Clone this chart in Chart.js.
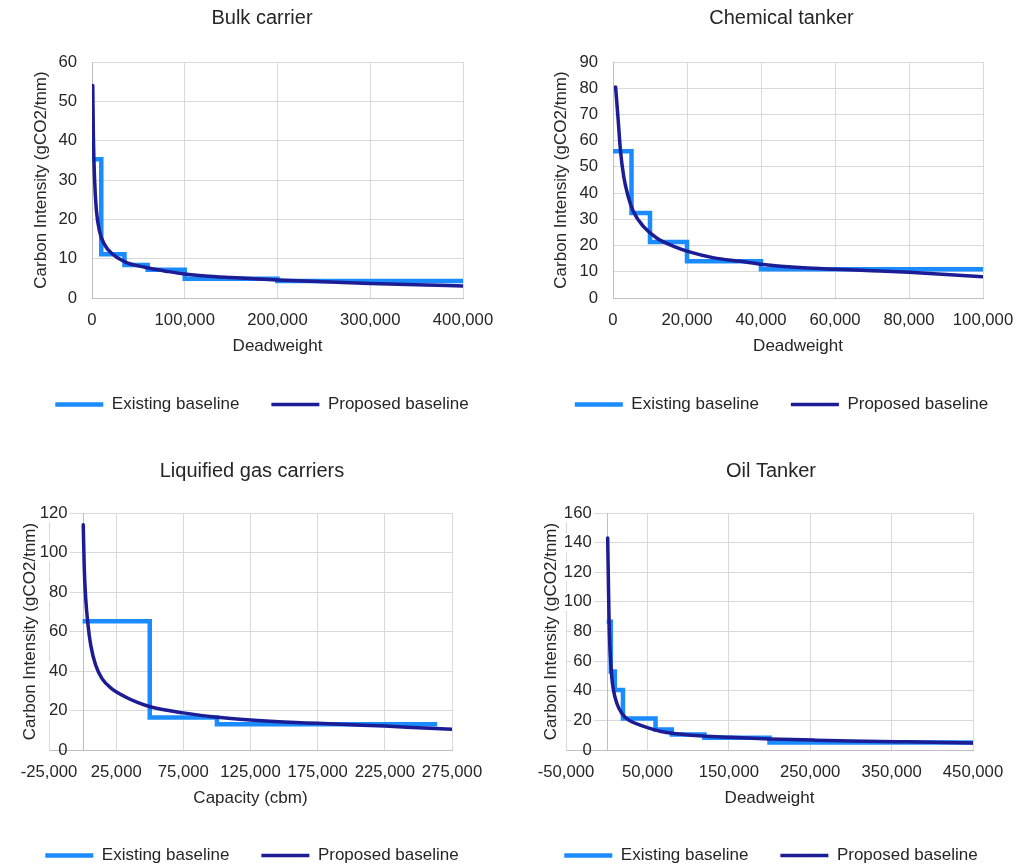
<!DOCTYPE html>
<html><head><meta charset="utf-8">
<script src="https://cdn.jsdelivr.net/npm/chart.js@4.4.1/dist/chart.umd.min.js"></script>
<style>
html,body{margin:0;padding:0;background:#fff;overflow:hidden;width:1033px;height:865px;}
canvas{position:absolute;}
</style></head><body>
<canvas id="c1" width="524" height="423" style="left:0px;top:0px"></canvas>
<canvas id="c2" width="503" height="423" style="left:530px;top:0px"></canvas>
<canvas id="c3" width="504" height="421" style="left:0px;top:453px"></canvas>
<canvas id="c4" width="502" height="421" style="left:520px;top:453px"></canvas>
<script>
// ---------- data ----------
const seriesNames = ['Existing baseline', 'Proposed baseline'];

// Bulk carrier
const bulkExistingX = [0, 10000, 35000, 60000, 100000, 200000, 400000];
const bulkExistingY = [35.3, 11.1, 8.4, 7.2, 4.9, 4.3];
const bulkProposedX = [800, 1500, 2800, 4700, 8300, 13700, 21000, 35500, 57000, 83000, 100000, 122000, 150000, 200000, 250000, 300000, 350000, 400000];
const bulkProposedY = [54, 41, 30, 22.4, 16.8, 13.5, 11.4, 9.2, 7.8, 6.7, 6.1, 5.6, 5.2, 4.6, 4.1, 3.7, 3.35, 3.05];

// Chemical tanker
const chemExistingX = [0, 5000, 10000, 20000, 40000, 100000];
const chemExistingY = [56, 32.4, 21.4, 14.0, 11.0];
const chemProposedX = [700, 1400, 2000, 2900, 4100, 5500, 8200, 11800, 16400, 20200, 27300, 34500, 40000, 51500, 60000, 70000, 80000, 90000, 100000];
const chemProposedY = [80.5, 67.9, 56.5, 46.3, 38.7, 33, 27.3, 22.9, 19.7, 17.8, 15.3, 14.0, 12.9, 11.5, 10.95, 10.4, 9.8, 9.0, 8.1];

// Liquified gas carriers
const lngExistingX = [0, 50000, 100000, 264000];
const lngExistingY = [65.2, 16.4, 13.0];
const lngProposedX = [500, 1200, 2400, 4100, 6100, 9700, 14600, 21800, 31600, 41300, 51000, 75000, 100000, 125000, 150000, 175000, 200000, 225000, 250000, 275000];
const lngProposedY = [114, 93, 76, 63, 53, 43, 36, 31, 27, 24, 21.8, 18.8, 16.6, 15.2, 14.2, 13.5, 12.8, 12.1, 11.3, 10.5];

// Oil tanker
const oilExistingX = [0, 5000, 10000, 20000, 60000, 80000, 120000, 200000, 450000];
const oilExistingY = [86.5, 53, 40.5, 21.3, 13.8, 10.5, 8.3, 5.0];
const oilProposedX = [1200, 2000, 2900, 4100, 6200, 8300, 12500, 18700, 27000, 39500, 52000, 68700, 89500, 118700, 152000, 200000, 254000, 300000, 356000, 400000, 450000];
const oilProposedY = [143.2, 116.7, 87.5, 67.3, 49.4, 40.4, 31.4, 24.7, 20.2, 17.2, 14.8, 12.3, 10.8, 9.4, 8.6, 7.5, 6.7, 6.1, 5.6, 5.2, 4.7];

// ---------- styling ----------
const EXIST_COLOR = '#1a8cff';
const PROP_COLOR = '#1c1c94';
const GRID = '#d9d9d9';
const AXIS = '#bfbfbf';
const TEXT = '#262626';
const FONT = "'Liberation Sans', Arial, sans-serif";
const TICK_SIZE = 16.7;
Chart.defaults.font.family = FONT;
Chart.defaults.color = TEXT;

function stepPoints(xs, ys) {
  const pts = [];
  for (let i = 0; i < ys.length; i++) {
    pts.push({x: xs[i], y: ys[i]});
    pts.push({x: xs[i + 1], y: ys[i]});
  }
  return pts;
}
function curvePoints(xs, ys) { return xs.map((x, i) => ({x, y: ys[i]})); }

// vertical value axis drawn at x = 0 (with its labels next to it), as in the original
const zeroAxis = {
  id: 'zeroAxis',
  beforeDatasetsDraw(chart, args, opts) {
    if (!opts || !opts.show) return;
    const sx = chart.scales.x, sy = chart.scales.y;
    const ctx = chart.ctx;
    const x0 = sx.getPixelForValue(0);
    const {top, bottom} = chart.chartArea;
    ctx.save();
    // labels with white background
    ctx.font = TICK_SIZE + 'px ' + FONT;
    ctx.textAlign = 'right';
    ctx.textBaseline = 'middle';
    const xr = x0 - opts.gap;
    sy.ticks.forEach(t => {
      const y = sy.getPixelForValue(t.value);
      const label = (t.label !== undefined && t.label !== null) ? String(t.label) : String(t.value);
      const w = ctx.measureText(label).width;
      if (t.value !== 0) {
        ctx.fillStyle = '#ffffff';
        ctx.fillRect(xr - w - 2, y - 9, w + 4, 18);
      }
      ctx.fillStyle = TEXT;
      ctx.fillText(label, xr, y);
    });
    // axis line
    const xl = Math.round(x0) + 0.5;
    ctx.strokeStyle = AXIS;
    ctx.lineWidth = 1;
    ctx.beginPath(); ctx.moveTo(xl, top); ctx.lineTo(xl, bottom); ctx.stroke();
    ctx.restore();
  }
};

function makeChart(id, c) {
  new Chart(document.getElementById(id), {
    type: 'line',
    data: {
      datasets: [
        {label: seriesNames[0], data: stepPoints(c.ex, c.ey), borderColor: EXIST_COLOR, backgroundColor: EXIST_COLOR,
         borderWidth: 4.5, pointRadius: 0, tension: 0, borderJoinStyle: 'miter', borderCapStyle: 'butt', order: 1},
        {label: seriesNames[1], data: curvePoints(c.px, c.py), borderColor: PROP_COLOR, backgroundColor: PROP_COLOR,
         borderWidth: 3.5, pointRadius: 0, cubicInterpolationMode: 'monotone', borderCapStyle: 'round', order: 0}
      ]
    },
    plugins: [zeroAxis],
    options: {
      responsive: false, animation: false, devicePixelRatio: 1,
      layout: {padding: 0},
      scales: {
        x: {
          type: 'linear', min: c.xmin, max: c.xmax,
          grid: {color: GRID, drawTicks: false},
          border: {color: AXIS},
          ticks: {stepSize: c.xstep, padding: 12.5, autoSkip: false, maxRotation: 0, minRotation: 0,
                  font: {size: TICK_SIZE}, color: TEXT,
                  callback: v => Number(v).toLocaleString('en-US')},
          title: {display: true, text: c.xtitle, font: {size: 17}, color: TEXT, padding: {top: 0, bottom: c.xtpb}},
          afterFit: s => { s.height = c.xh; }
        },
        y: {
          type: 'linear', min: 0, max: c.ymax,
          grid: {color: GRID, drawTicks: false},
          border: {color: c.yborder},
          ticks: {stepSize: c.ystep, padding: 15, font: {size: TICK_SIZE}, color: TEXT, display: !c.zero},
          title: {display: true, text: 'Carbon Intensity (gCO2/tnm)', font: {size: 17}, color: TEXT,
                  padding: {top: c.ytpt, bottom: 0}},
          afterFit: s => { s.width = c.yw; }
        },
        r2: {
          type: 'linear', position: 'right', display: true,
          grid: {display: false, drawOnChartArea: false}, border: {display: false},
          ticks: {display: false},
          afterFit: s => { s.width = c.rw; }
        }
      },
      plugins: {
        zeroAxis: {show: c.zero, gap: 15},
        tooltip: {enabled: false},
        title: {display: true, text: c.title, font: {size: 20, weight: 'normal'}, color: TEXT,
                padding: {top: 6, bottom: c.tpb}},
        legend: {
          position: 'bottom',
          labels: {usePointStyle: true, pointStyle: 'line', pointStyleWidth: 48, font: {size: 17}, color: TEXT,
                   padding: 32, sort: (a, b) => a.datasetIndex - b.datasetIndex}
        }
      }
    }
  });
}

makeChart('c1', {title: 'Bulk carrier', ex: bulkExistingX, ey: bulkExistingY, px: bulkProposedX, py: bulkProposedY,
  xmin: 0, xmax: 400000, xstep: 100000, ymax: 60, ystep: 10, xtitle: 'Deadweight',
  yw: 92, rw: 61, ytpt: 31.5, yborder: AXIS, zero: false, tpb: 32, xh: 66, xtpb: 7});
makeChart('c2', {title: 'Chemical tanker', ex: chemExistingX, ey: chemExistingY, px: chemProposedX, py: chemProposedY,
  xmin: 0, xmax: 100000, xstep: 20000, ymax: 90, ystep: 10, xtitle: 'Deadweight',
  yw: 83, rw: 50, ytpt: 21.5, yborder: AXIS, zero: false, tpb: 32, xh: 66, xtpb: 7});
makeChart('c3', {title: 'Liquified gas carriers', ex: lngExistingX, ey: lngExistingY, px: lngProposedX, py: lngProposedY,
  xmin: -25000, xmax: 275000, xstep: 50000, ymax: 120, ystep: 20, xtitle: 'Capacity (cbm)',
  yw: 49, rw: 52, ytpt: 20.5, yborder: GRID, zero: true, tpb: 30, xh: 65, xtpb: 6});
makeChart('c4', {title: 'Oil Tanker', ex: oilExistingX, ey: oilExistingY, px: oilProposedX, py: oilProposedY,
  xmin: -50000, xmax: 450000, xstep: 100000, ymax: 160, ystep: 20, xtitle: 'Deadweight',
  yw: 46, rw: 49, ytpt: 21.5, yborder: GRID, zero: true, tpb: 30, xh: 65, xtpb: 6});
</script>
</body></html>
